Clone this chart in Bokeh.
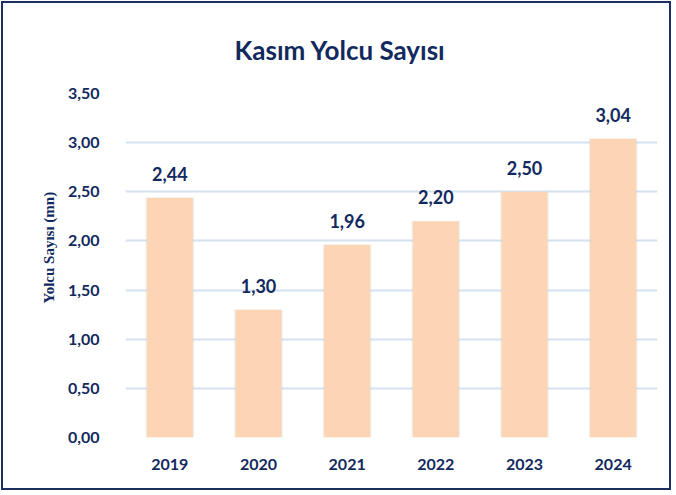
from bokeh.plotting import figure
from bokeh.models import ColumnDataSource, CustomJSTickFormatter, FixedTicker, Title
from bokeh.core.properties import value
from bokeh.embed import file_html
from bokeh.resources import INLINE

years = ["2019", "2020", "2021", "2022", "2023", "2024"]
passengers = [2.44, 1.30, 1.96, 2.20, 2.50, 3.04]
labels = ["2,44", "1,30", "1,96", "2,20", "2,50", "3,04"]
y_ticks = [0, 0.5, 1.0, 1.5, 2.0, 2.5, 3.0, 3.5]
title_text = "Kasım Yolcu Sayısı"
y_title = "Yolcu Sayısı (mn)"

NAVY = "#12295E"
BAR = "#FCD5B4"
FONT = "Lato"

src = ColumnDataSource(dict(x=years, y=passengers, lab=labels))

p = figure(x_range=years, y_range=(0, 3.5), width=670, height=489,
           output_backend="svg", toolbar_location=None,
           min_border_left=122, min_border_right=16, min_border_top=0, min_border_bottom=55)
p.styles = {"border": "2px solid #1B2F63", "margin": "1px"}
p.outline_line_color = None
p.background_fill_color = "white"
p.border_fill_color = "white"

p.title.text = title_text
p.title.align = "left"
p.title.offset = 109
p.title.text_font = FONT
p.title.text_font_size = "26px"
p.title.text_font_style = "bold"
p.title.text_color = NAVY
p.title.standoff = 56

# shadow + bars
p.vbar(x="x", top="y", width=0.545, bottom=0, source=src, fill_color="#BFBFBF",
       fill_alpha=0.25, line_color=None)
p.vbar(x="x", top="y", width=0.52, bottom=0, source=src, fill_color=BAR, line_color=None)

p.text(x="x", y="y", text="lab", source=src, text_align="center", text_baseline="alphabetic",
       y_offset=-24, text_font=value(FONT), text_font_size="18px", text_font_style="bold",
       text_color=NAVY)

p.xgrid.grid_line_color = None
p.ygrid.grid_line_color = "#D5E2F1"
p.ygrid.grid_line_width = 2
p.yaxis.ticker = FixedTicker(ticks=y_ticks)
p.yaxis.formatter = CustomJSTickFormatter(code="return tick.toFixed(2).replace('.', ',');")

for ax in (p.xaxis[0], p.yaxis[0]):
    ax.axis_line_color = None
    ax.major_tick_line_color = None
    ax.minor_tick_line_color = None
    ax.major_label_text_font = FONT
    ax.major_label_text_font_size = "16px"
    ax.major_label_text_font_style = "bold"
    ax.major_label_text_color = NAVY

p.yaxis.major_label_standoff = 20
p.xaxis.major_label_standoff = 15

ytitle = Title(text=y_title, align="left", offset=134, standoff=16,
               text_font="Liberation Serif", text_font_size="15px",
               text_font_style="bold", text_color=NAVY)
p.add_layout(ytitle, "left")

open("out.html", "w").write(file_html(p, INLINE))
